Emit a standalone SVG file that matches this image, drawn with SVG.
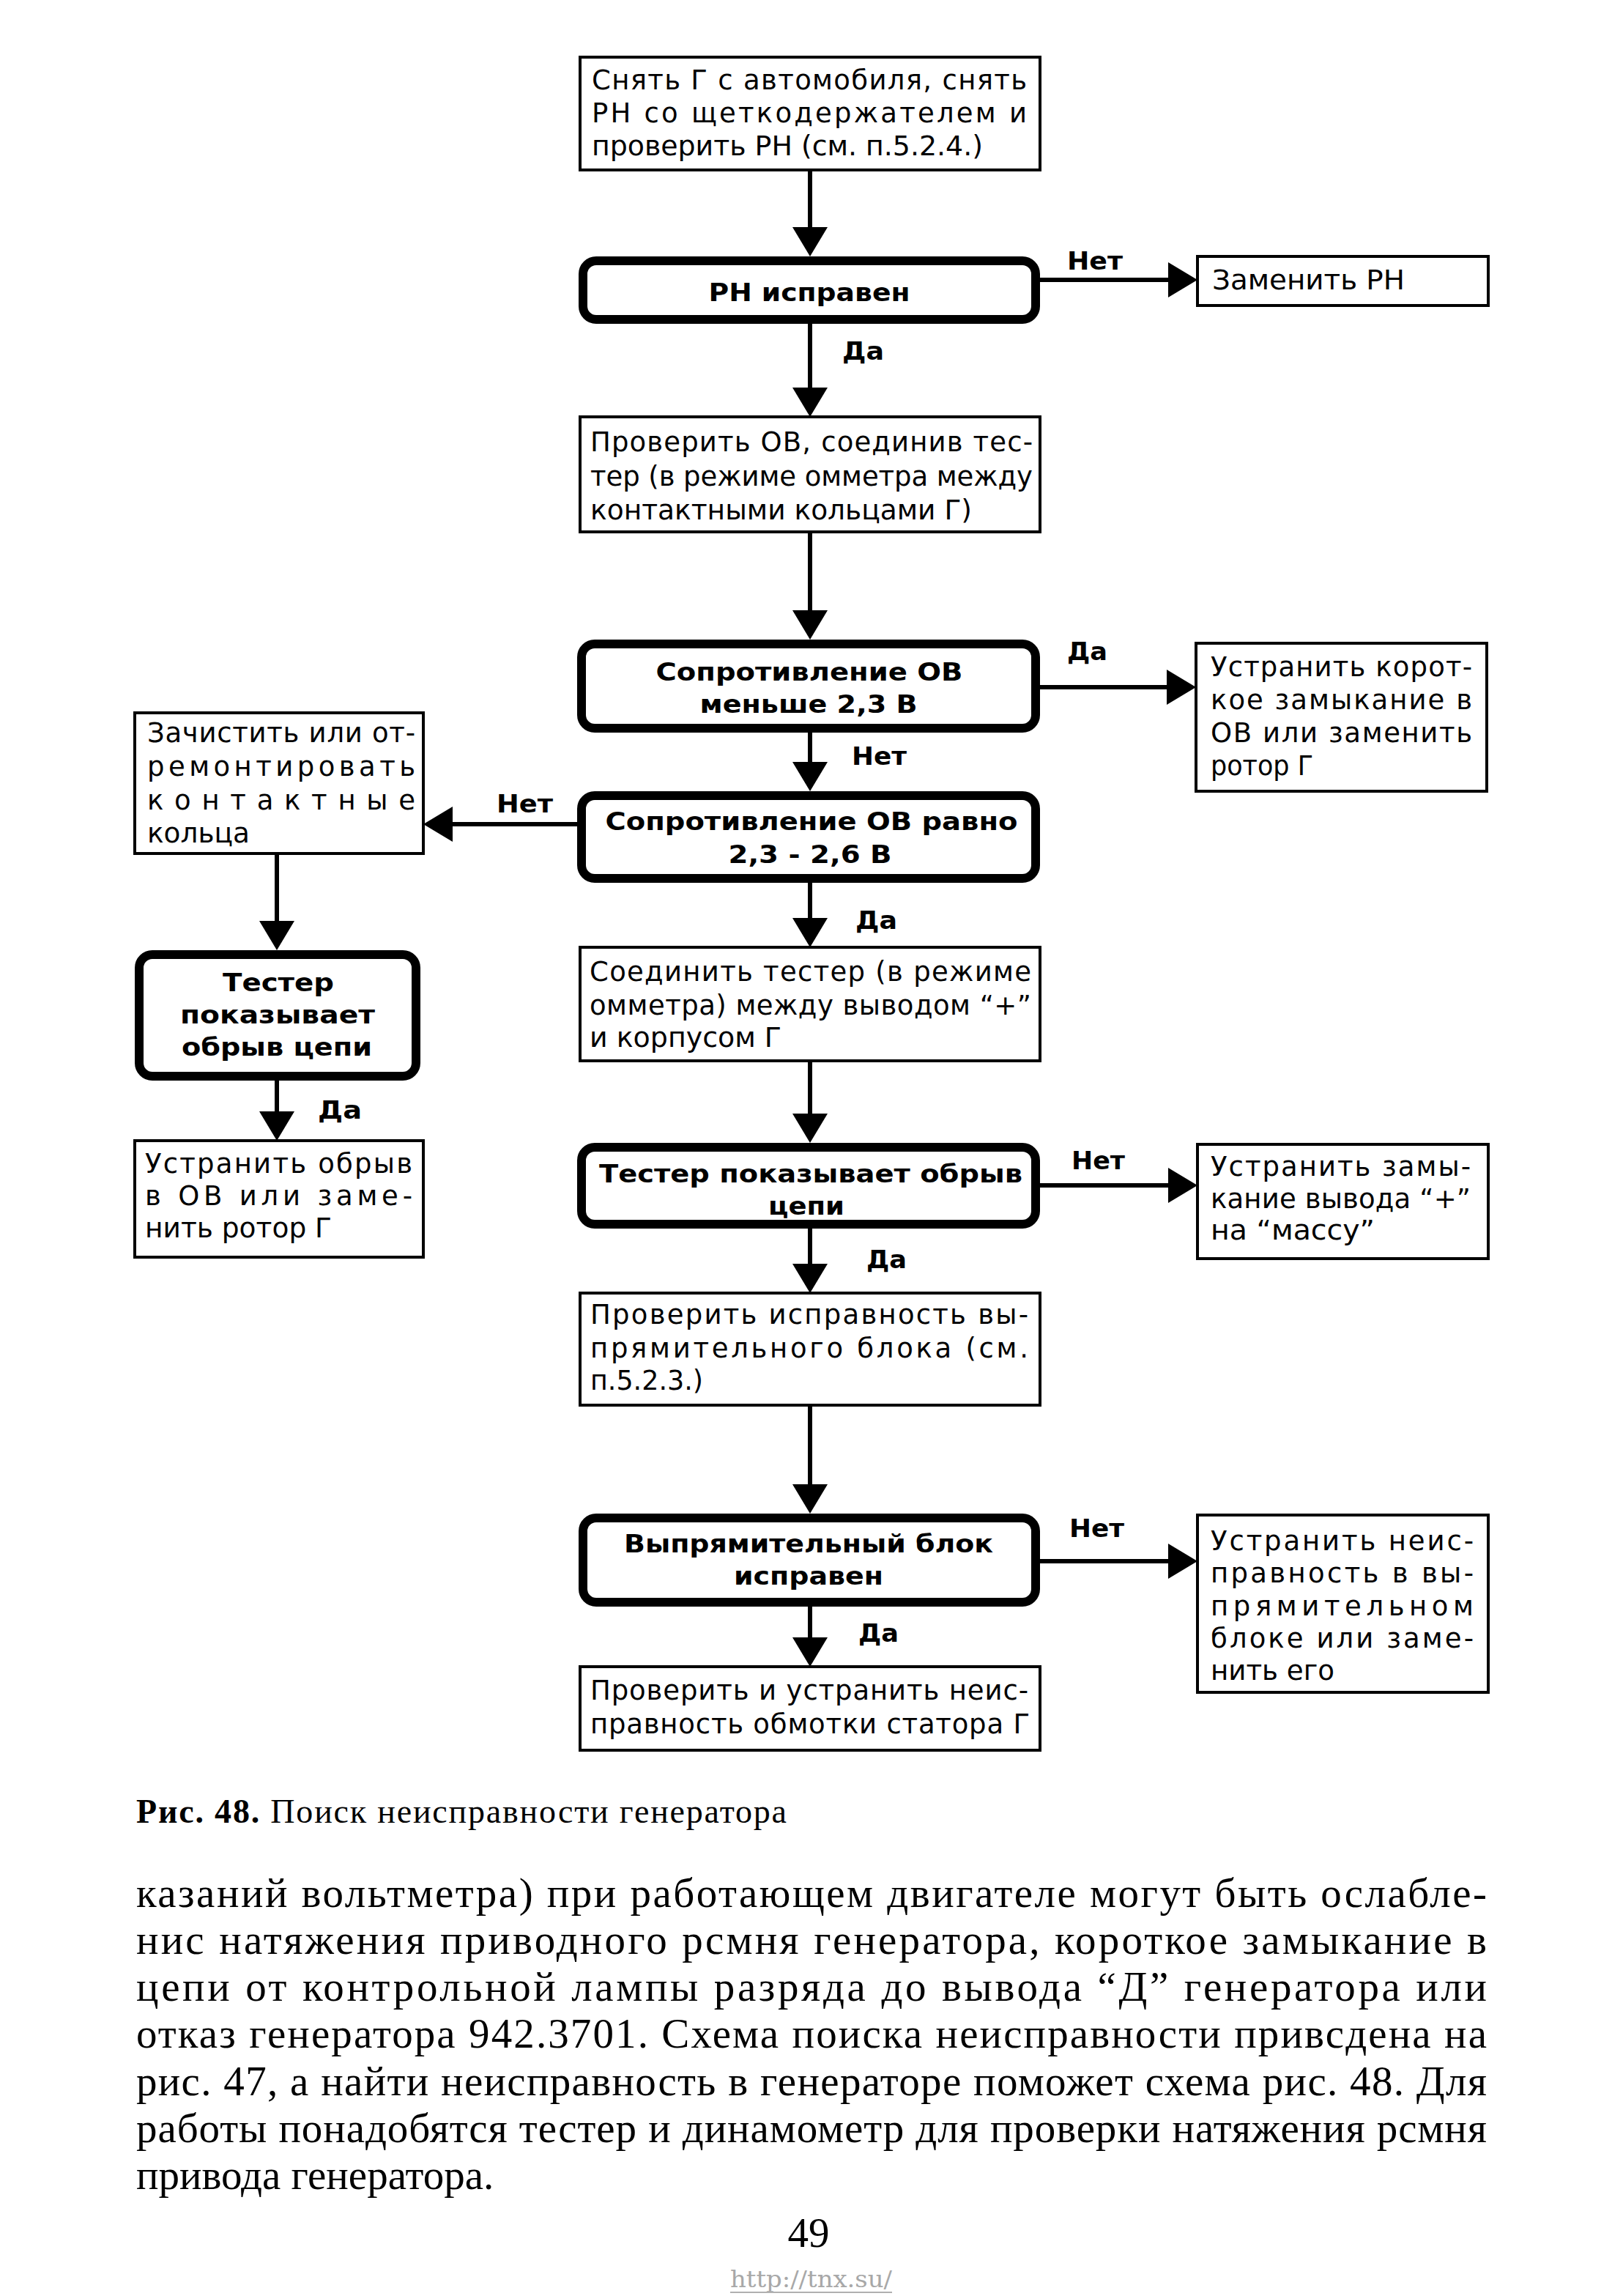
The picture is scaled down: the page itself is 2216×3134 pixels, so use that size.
<svg xmlns="http://www.w3.org/2000/svg" width="2216" height="3134" viewBox="0 0 2216 3134">
<style>
.box{fill:#fff;stroke:#000;stroke-width:4}
.dec{fill:#fff;stroke:#000;stroke-width:12}
.t{font-family:"DejaVu Sans","Liberation Sans",sans-serif;font-size:37px;fill:#000}
.b{font-family:"DejaVu Sans","Liberation Sans",sans-serif;font-weight:bold;font-size:34px;fill:#000}
.conn{stroke:#000;stroke-width:6;fill:none}
.body{font-family:"Liberation Serif",serif;font-size:57px;fill:#000}
.cap{font-family:"Liberation Serif",serif;font-size:46px;fill:#000}
</style>
<defs>
<marker id="ah" markerUnits="userSpaceOnUse" markerWidth="40" markerHeight="48" refX="20" refY="24" orient="auto">
<path d="M0,0 L40,24 L0,48 Z" fill="#000"/>
</marker>
</defs>
<rect width="2216" height="3134" fill="#fff"/>

<g id="n1">
<rect class="box" x="792" y="78" width="628" height="154"/>
<text class="t" x="808" y="122" textLength="594" lengthAdjust="spacing">Снять Г с автомобиля, снять</text>
<text class="t" x="808" y="167" textLength="594" lengthAdjust="spacing">РН со щеткодержателем и</text>
<text class="t" x="808" y="212" textLength="534" lengthAdjust="spacingAndGlyphs">проверить РН (см. п.5.2.4.)</text>
</g>

<g id="n2">
<rect class="dec" x="796" y="356" width="618" height="80" rx="18"/>
<text class="b" x="1105" y="411" text-anchor="middle" textLength="275" lengthAdjust="spacingAndGlyphs">РН исправен</text>
</g>

<g id="n3">
<rect class="box" x="1635" y="350" width="397" height="67"/>
<text class="t" x="1655" y="395" textLength="263" lengthAdjust="spacingAndGlyphs">Заменить РН</text>
</g>

<g id="n4">
<rect class="box" x="792" y="569" width="628" height="157"/>
<text class="t" x="806" y="616" textLength="604" lengthAdjust="spacing">Проверить ОВ, соединив тес-</text>
<text class="t" x="806" y="663" textLength="604" lengthAdjust="spacing">тер (в режиме омметра между</text>
<text class="t" x="806" y="709" textLength="521" lengthAdjust="spacingAndGlyphs">контактными кольцами Г)</text>
</g>

<g id="n5">
<rect class="dec" x="794" y="879" width="620" height="115" rx="18"/>
<text class="b" x="1105" y="929" text-anchor="middle" textLength="419" lengthAdjust="spacingAndGlyphs">Сопротивление ОВ</text>
<text class="b" x="1104" y="973" text-anchor="middle" textLength="297" lengthAdjust="spacingAndGlyphs">меньше 2,3 В</text>
</g>

<g id="n6">
<rect class="box" x="1633" y="878" width="397" height="202"/>
<text class="t" x="1653" y="923" textLength="357" lengthAdjust="spacing">Устранить корот-</text>
<text class="t" x="1653" y="968" textLength="357" lengthAdjust="spacing">кое замыкание в</text>
<text class="t" x="1653" y="1013" textLength="357" lengthAdjust="spacing">ОВ или заменить</text>
<text class="t" x="1653" y="1058" textLength="140" lengthAdjust="spacingAndGlyphs">ротор Г</text>
</g>

<g id="n7">
<rect class="dec" x="794" y="1086" width="620" height="113" rx="18"/>
<text class="b" x="1108" y="1133" text-anchor="middle" textLength="563" lengthAdjust="spacingAndGlyphs">Сопротивление ОВ равно</text>
<text class="b" x="1106" y="1178" text-anchor="middle" textLength="223" lengthAdjust="spacingAndGlyphs">2,3 - 2,6 В</text>
</g>

<g id="n8">
<rect class="box" x="184" y="973" width="394" height="192"/>
<text class="t" x="201" y="1013" textLength="366" lengthAdjust="spacing">Зачистить или от-</text>
<text class="t" x="201" y="1059" textLength="366" lengthAdjust="spacing">ремонтировать</text>
<text class="t" x="201" y="1105" textLength="366" lengthAdjust="spacing">контактные</text>
<text class="t" x="201" y="1150" textLength="140" lengthAdjust="spacingAndGlyphs">кольца</text>
</g>

<g id="n9">
<rect class="dec" x="190" y="1303" width="378" height="166" rx="18"/>
<text class="b" x="380" y="1353" text-anchor="middle" textLength="152" lengthAdjust="spacingAndGlyphs">Тестер</text>
<text class="b" x="379" y="1397" text-anchor="middle" textLength="266" lengthAdjust="spacingAndGlyphs">показывает</text>
<text class="b" x="378" y="1441" text-anchor="middle" textLength="260" lengthAdjust="spacingAndGlyphs">обрыв цепи</text>
</g>

<g id="n10">
<rect class="box" x="184" y="1557" width="394" height="159"/>
<text class="t" x="198" y="1601" textLength="365" lengthAdjust="spacing">Устранить обрыв</text>
<text class="t" x="198" y="1645" textLength="365" lengthAdjust="spacing">в ОВ или заме-</text>
<text class="t" x="198" y="1689" textLength="255" lengthAdjust="spacingAndGlyphs">нить ротор Г</text>
</g>

<g id="n11">
<rect class="box" x="792" y="1293" width="628" height="155"/>
<text class="t" x="805" y="1339" textLength="603" lengthAdjust="spacing">Соединить тестер (в режиме</text>
<text class="t" x="805" y="1385" textLength="603" lengthAdjust="spacing">омметра) между выводом “+”</text>
<text class="t" x="805" y="1429" textLength="262" lengthAdjust="spacingAndGlyphs">и корпусом Г</text>
</g>

<g id="n12">
<rect class="dec" x="794" y="1566" width="620" height="105" rx="18"/>
<text class="b" x="1107" y="1614" text-anchor="middle" textLength="578" lengthAdjust="spacingAndGlyphs">Тестер показывает обрыв</text>
<text class="b" x="1101" y="1658" text-anchor="middle" textLength="104" lengthAdjust="spacingAndGlyphs">цепи</text>
</g>

<g id="n13">
<rect class="box" x="1635" y="1562" width="397" height="156"/>
<text class="t" x="1653" y="1605" textLength="355" lengthAdjust="spacing">Устранить замы-</text>
<text class="t" x="1653" y="1649" textLength="355" lengthAdjust="spacing">кание вывода “+”</text>
<text class="t" x="1653" y="1692" textLength="224" lengthAdjust="spacingAndGlyphs">на “массу”</text>
</g>

<g id="n14">
<rect class="box" x="792" y="1765" width="628" height="153"/>
<text class="t" x="806" y="1807" textLength="598" lengthAdjust="spacing">Проверить исправность вы-</text>
<text class="t" x="806" y="1853" textLength="598" lengthAdjust="spacing">прямительного блока (см.</text>
<text class="t" x="806" y="1897" textLength="154" lengthAdjust="spacingAndGlyphs">п.5.2.3.)</text>
</g>

<g id="n15">
<rect class="dec" x="796" y="2072" width="618" height="115" rx="18"/>
<text class="b" x="1104" y="2119" text-anchor="middle" textLength="504" lengthAdjust="spacingAndGlyphs">Выпрямительный блок</text>
<text class="b" x="1104" y="2163" text-anchor="middle" textLength="204" lengthAdjust="spacingAndGlyphs">исправен</text>
</g>

<g id="n16">
<rect class="box" x="1635" y="2068" width="397" height="242"/>
<text class="t" x="1653" y="2116" textLength="359" lengthAdjust="spacing">Устранить неис-</text>
<text class="t" x="1653" y="2160" textLength="359" lengthAdjust="spacing">правность в вы-</text>
<text class="t" x="1653" y="2205" textLength="359" lengthAdjust="spacing">прямительном</text>
<text class="t" x="1653" y="2249" textLength="359" lengthAdjust="spacing">блоке или заме-</text>
<text class="t" x="1653" y="2293" textLength="169" lengthAdjust="spacingAndGlyphs">нить его</text>
</g>

<g id="n17">
<rect class="box" x="792" y="2275" width="628" height="114"/>
<text class="t" x="806" y="2320" textLength="598" lengthAdjust="spacing">Проверить и устранить неис-</text>
<text class="t" x="806" y="2366" textLength="600" lengthAdjust="spacing">правность обмотки статора Г</text>
</g>

<g id="connectors">
<path class="conn" marker-end="url(#ah)" d="M1106,232 V330"/>
<path class="conn" marker-end="url(#ah)" d="M1106,442 V549"/>
<path class="conn" marker-end="url(#ah)" d="M1420,382 H1615"/>
<path class="conn" marker-end="url(#ah)" d="M1106,726 V853"/>
<path class="conn" marker-end="url(#ah)" d="M1420,938 H1613"/>
<path class="conn" marker-end="url(#ah)" d="M1106,1000 V1060"/>
<path class="conn" marker-end="url(#ah)" d="M788,1125 H598"/>
<path class="conn" marker-end="url(#ah)" d="M378,1165 V1277"/>
<path class="conn" marker-end="url(#ah)" d="M378,1475 V1537"/>
<path class="conn" marker-end="url(#ah)" d="M1106,1205 V1273"/>
<path class="conn" marker-end="url(#ah)" d="M1106,1448 V1540"/>
<path class="conn" marker-end="url(#ah)" d="M1420,1618 H1615"/>
<path class="conn" marker-end="url(#ah)" d="M1106,1677 V1745"/>
<path class="conn" marker-end="url(#ah)" d="M1106,1918 V2046"/>
<path class="conn" marker-end="url(#ah)" d="M1420,2131 H1615"/>
<path class="conn" marker-end="url(#ah)" d="M1106,2193 V2255"/>
<g id="labels">
<text class="b" x="1457" y="368" textLength="76" lengthAdjust="spacingAndGlyphs">Нет</text>
<text class="b" x="1150" y="491" textLength="57" lengthAdjust="spacingAndGlyphs">Да</text>
<text class="b" x="1457" y="901" textLength="55" lengthAdjust="spacingAndGlyphs">Да</text>
<text class="b" x="1163" y="1044" textLength="75" lengthAdjust="spacingAndGlyphs">Нет</text>
<text class="b" x="678" y="1109" textLength="77" lengthAdjust="spacingAndGlyphs">Нет</text>
<text class="b" x="1168" y="1268" textLength="57" lengthAdjust="spacingAndGlyphs">Да</text>
<text class="b" x="434" y="1527" textLength="60" lengthAdjust="spacingAndGlyphs">Да</text>
<text class="b" x="1463" y="1596" textLength="73" lengthAdjust="spacingAndGlyphs">Нет</text>
<text class="b" x="1183" y="1731" textLength="55" lengthAdjust="spacingAndGlyphs">Да</text>
<text class="b" x="1460" y="2098" textLength="75" lengthAdjust="spacingAndGlyphs">Нет</text>
<text class="b" x="1172" y="2241" textLength="55" lengthAdjust="spacingAndGlyphs">Да</text>
</g>
</g>

<g id="caption">
<text class="cap" x="186" y="2488" textLength="888" lengthAdjust="spacing"><tspan font-weight="bold">Рис. 48.</tspan> Поиск неисправности генератора</text>
</g>

<g id="body">
<text class="body" x="186" y="2603" textLength="1844" lengthAdjust="spacing">казаний вольтметра) при работающем двигателе могут быть ослабле-</text>
<text class="body" x="186" y="2667" textLength="1844" lengthAdjust="spacing">нис натяжения приводного рсмня генератора, короткое замыкание в</text>
<text class="body" x="186" y="2731" textLength="1844" lengthAdjust="spacing">цепи от контрольной лампы разряда до вывода “Д” генератора или</text>
<text class="body" x="186" y="2795" textLength="1844" lengthAdjust="spacing">отказ генератора 942.3701. Схема поиска неисправности привсдена на</text>
<text class="body" x="186" y="2860" textLength="1844" lengthAdjust="spacing">рис. 47, а найти неисправность в генераторе поможет схема рис. 48. Для</text>
<text class="body" x="186" y="2924" textLength="1844" lengthAdjust="spacing">работы понадобятся тестер и динамометр для проверки натяжения рсмня</text>
<text class="body" x="186" y="2988">привода генератора.</text>
<text class="body" x="1104" y="3067" text-anchor="middle">49</text>
</g>

<g id="watermark">
<text x="997" y="3122" font-family="DejaVu Serif, serif" font-size="32" fill="#a8a8a8" textLength="221" lengthAdjust="spacingAndGlyphs">http://tnx.su/</text>
<line x1="997" y1="3129" x2="1218" y2="3129" stroke="#b0b0b0" stroke-width="2"/>
</g>
</svg>
